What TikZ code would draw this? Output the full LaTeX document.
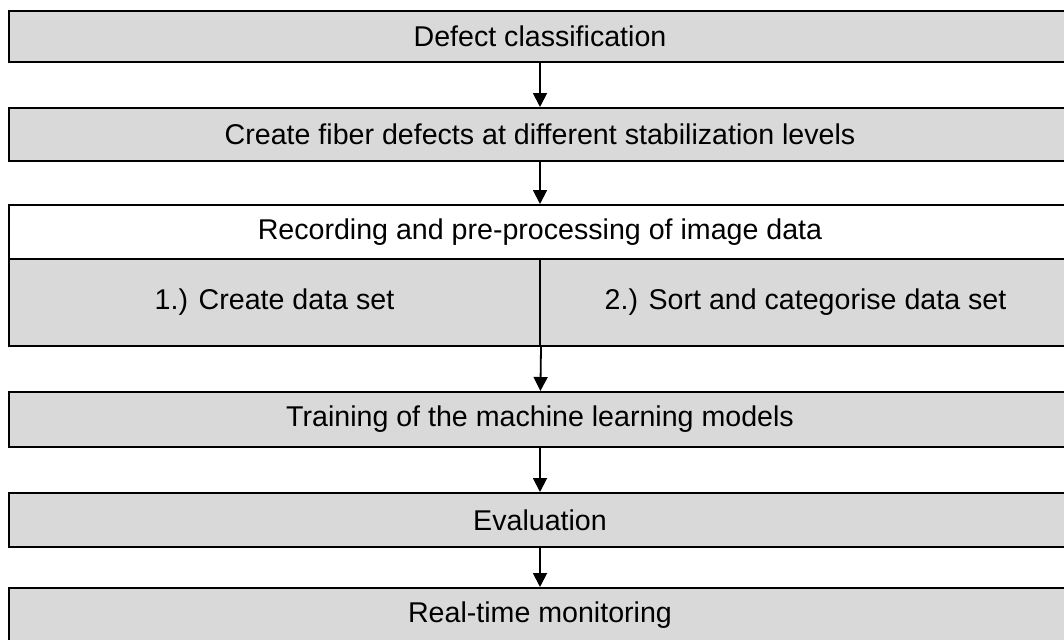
\documentclass[tikz,border=0pt]{standalone}
\usepackage{fontspec}
\setmainfont{Liberation Sans}
\usepackage{tikz}
\usetikzlibrary{arrows.meta}
\usetikzlibrary{calc}
\definecolor{boxgray}{HTML}{D9D9D9}

\begin{document}
\begin{tikzpicture}[x=0.5pt,y=-0.5pt,
stage/.style={draw, line width=1pt, fill=boxgray, inner sep=0pt, minimum width=531pt, font=\fontsize{14.3}{16}\selectfont},
cell/.style={stage, minimum width=265.5pt, minimum height=43.5pt},
flow/.style={-{Triangle[length=7pt,width=7pt]}, line width=0.9pt}]
\useasboundingbox (0,0) rectangle (1064,639);
\node[stage, minimum height=25.5pt] (d1) at (540,36.5) {Defect classification};
\node[stage, minimum height=26.5pt] (d2) at (540,134.5) {Create fiber defects at different stabilization levels};
\node[stage, fill=white, minimum height=27pt] (rec) at (540,232) {Recording and pre-processing of image data};
\node[cell] (c1) at (274.5,302.5) {1.) Create data set};
\node[cell] (c2) at (805.5,302.5) {2.) Sort and categorise data set};
\node[stage, minimum height=27.5pt] (d4) at (540,419.5) {Training of the machine learning models};
\node[stage, minimum height=27pt] (d5) at (540,520) {Evaluation};
\node[stage, minimum height=27.5pt] (d6) at (540,615.5) {Real-time monitoring};
\path[flow]
(d1) edge (d2)
(d2) edge (rec)
(c1.south east) edge (d4)
(d4) edge (d5)
(d5) edge (d6)
;
\end{tikzpicture}
\end{document}
